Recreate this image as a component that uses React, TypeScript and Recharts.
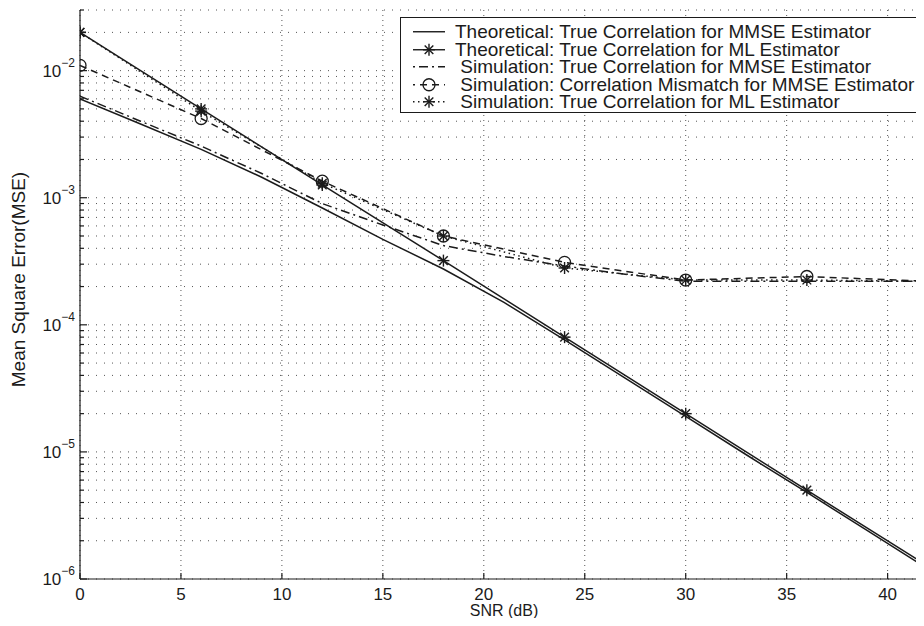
import { CartesianGrid, Legend, Line, LineChart, XAxis, YAxis } from "recharts";

const INK = "#1b1b1b";
const FONT = "'Liberation Sans', Arial, Helvetica, sans-serif";

// SNR points (dB) for the dense curves and for the marked curves
const snrFine = [0, 3, 6, 9, 12, 15, 18, 21, 24, 27, 30, 33, 36, 39, 42];
const snrCoarse = [0, 6, 12, 18, 24, 30, 36, 42];

const mmseTheory = [
  6.0e-3, 3.8e-3, 2.4e-3, 1.45e-3, 8.3e-4, 4.7e-4, 2.75e-4, 1.5e-4, 7.6e-5,
  3.8e-5, 1.9e-5, 9.5e-6, 4.8e-6, 2.4e-6, 1.2e-6,
];
const mmseSimTrue = [
  6.3e-3, 4.0e-3, 2.55e-3, 1.55e-3, 9.0e-4, 6.1e-4, 4.2e-4, 3.45e-4, 2.9e-4,
  2.5e-4, 2.2e-4, 2.2e-4, 2.2e-4, 2.2e-4, 2.2e-4,
];
const mlTheory = [2.0e-2, 5.0e-3, 1.26e-3, 3.2e-4, 8.0e-5, 2.0e-5, 5.0e-6, 1.26e-6];
const mmseSimMismatch = [1.1e-2, 4.2e-3, 1.35e-3, 5.0e-4, 3.1e-4, 2.25e-4, 2.4e-4, 2.2e-4];
const mlSim = [2.0e-2, 4.8e-3, 1.3e-3, 5.0e-4, 2.8e-4, 2.25e-4, 2.25e-4, 2.2e-4];

const xTicks = [0, 5, 10, 15, 20, 25, 30, 35, 40];
const yDecades = [1e-6, 1e-5, 1e-4, 1e-3, 1e-2];
const yMin = 1e-6;
const yMax = 3e-2;
const yTicks = yDecades
  .flatMap((d) => [1, 2, 3, 4, 5, 6, 7, 8, 9].map((m) => m * d))
  .filter((v) => v <= yMax * 1.0001);

type Marker = "none" | "star" | "circle";

const toPoints = (xs: number[], ys: number[]) =>
  xs.map((snr, i) => ({ snr, mse: ys[i] }));

const series: {
  key: string;
  name: string;
  data: { snr: number; mse: number }[];
  dash?: string;
  legendOffset?: number;
  marker: Marker;
}[] = [
  {
    key: "theoryMmse",
    name: "Theoretical: True Correlation for MMSE Estimator",
    data: toPoints(snrFine, mmseTheory),
    marker: "none",
  },
  {
    key: "theoryMl",
    name: "Theoretical: True Correlation for ML Estimator",
    data: toPoints(snrCoarse, mlTheory),
    marker: "star",
  },
  {
    key: "simMmse",
    name: " Simulation: True Correlation for MMSE Estimator",
    data: toPoints(snrFine, mmseSimTrue),
    dash: "9 4 2 4",
    legendOffset: 13,
    marker: "none",
  },
  {
    key: "simMismatch",
    name: " Simulation: Correlation Mismatch for MMSE Estimator",
    data: toPoints(snrCoarse, mmseSimMismatch),
    dash: "7 5",
    legendOffset: 5,
    marker: "circle",
  },
  {
    key: "simMl",
    name: " Simulation: True Correlation for ML Estimator",
    data: toPoints(snrCoarse, mlSim),
    dash: "1.5 3.5",
    marker: "star",
  },
];

function MarkerShape({ kind, cx, cy }: { kind: Marker; cx: number; cy: number }) {
  if (kind === "circle") {
    return <circle cx={cx} cy={cy} r={6} fill="none" stroke={INK} strokeWidth={1.3} />;
  }
  if (kind === "star") {
    const r = 6;
    const d = r * 0.72;
    return (
      <g stroke={INK} strokeWidth={1.4}>
        <line x1={cx - r} y1={cy} x2={cx + r} y2={cy} />
        <line x1={cx} y1={cy - r} x2={cx} y2={cy + r} />
        <line x1={cx - d} y1={cy - d} x2={cx + d} y2={cy + d} />
        <line x1={cx - d} y1={cy + d} x2={cx + d} y2={cy - d} />
      </g>
    );
  }
  return null;
}

const isDecade = (v: number) =>
  Math.abs(Math.log10(v) - Math.round(Math.log10(v))) < 1e-6;

// tickSize/tickMargin are 0, so x/y arrive on the axis line itself
function BottomTick({ x, y, payload }: any) {
  return (
    <g>
      <line x1={x} x2={x} y1={y} y2={y - 6} stroke={INK} strokeWidth={1.2} />
      <text x={x} y={y + 21} textAnchor="middle" fontSize={17} fontFamily={FONT} fill={INK}>
        {payload.value}
      </text>
    </g>
  );
}

function TopTick({ x, y }: any) {
  return <line x1={x} x2={x} y1={y} y2={y + 6} stroke={INK} strokeWidth={1.2} />;
}

function LeftTick({ x, y, payload }: any) {
  const v = payload.value as number;
  const major = isDecade(v);
  const exp = Math.round(Math.log10(v));
  return (
    <g>
      <line x1={x} x2={x + (major ? 7 : 4)} y1={y} y2={y} stroke={INK} strokeWidth={1.2} />
      {major && (
        <text x={x - 5} y={y + 6} textAnchor="end" fontSize={17} fontFamily={FONT} fill={INK}>
          10
          <tspan dy={-10} fontSize={12}>{`\u2212${-exp}`}</tspan>
        </text>
      )}
    </g>
  );
}

function RightTick({ x, y, payload }: any) {
  const major = isDecade(payload.value);
  return <line x1={x} x2={x - (major ? 7 : 4)} y1={y} y2={y} stroke={INK} strokeWidth={1.2} />;
}

function LegendBox() {
  return (
    <div
      style={{
        width: 521,
        height: 96,
        boxSizing: "border-box",
        border: `1px solid ${INK}`,
        background: "#fff",
        paddingTop: 5,
      }}
    >
      {series.map((s) => (
        <div key={s.key} style={{ display: "flex", alignItems: "center", height: 17.5 }}>
          <svg width={50} height={17.5} style={{ flex: "none" }}>
            <line
              x1={12}
              x2={44}
              y1={8.75}
              y2={8.75}
              stroke={INK}
              strokeWidth={1.4}
              strokeDasharray={s.dash}
              strokeDashoffset={s.legendOffset ?? 0}
            />
            <MarkerShape kind={s.marker} cx={28} cy={8.75} />
          </svg>
          <span
            style={{
              whiteSpace: "pre",
              marginLeft: 4,
              fontSize: 19,
              lineHeight: "17.5px",
              fontFamily: FONT,
              color: INK,
            }}
          >
            {s.name}
          </span>
        </div>
      ))}
    </div>
  );
}

export default function App() {
  // cancel the body margin so chart pixels line up with the page
  return (
    <div style={{ margin: -8, width: 924, height: 626, overflow: "hidden", position: "relative" }}>
      <LineChart width={924} height={626} margin={{ top: 10, right: -4, bottom: 0, left: 0 }}>
        <CartesianGrid horizontal vertical={false} stroke="#555" strokeDasharray="1 7" />
        <CartesianGrid horizontal={false} vertical stroke="#555" strokeDasharray="1 4" />
        <XAxis
          type="number"
          dataKey="snr"
          domain={[0, 42]}
          ticks={xTicks}
          interval={0}
          tickSize={0}
          tickMargin={0}
          tickLine={false}
          tick={BottomTick}
          axisLine={{ stroke: INK, strokeWidth: 1.2 }}
          height={47}
          allowDataOverflow
          label={{
            value: "SNR (dB)",
            position: "insideBottom",
            offset: 10,
            fontSize: 16,
            fontFamily: FONT,
            fill: INK,
          }}
        />
        <XAxis
          xAxisId="top"
          orientation="top"
          type="number"
          dataKey="snr"
          domain={[0, 42]}
          ticks={xTicks}
          interval={0}
          tickSize={0}
          tickMargin={0}
          tickLine={false}
          tick={TopTick}
          axisLine={{ stroke: INK, strokeWidth: 1.2 }}
          height={0}
          allowDataOverflow
        />
        <YAxis
          type="number"
          scale="log"
          domain={[yMin, yMax]}
          ticks={yTicks}
          interval={0}
          tickSize={0}
          tickMargin={0}
          tickLine={false}
          tick={LeftTick}
          axisLine={{ stroke: INK, strokeWidth: 1.2 }}
          width={80}
          allowDataOverflow
          label={({ viewBox }: any) => (
            <text
              transform={`translate(${viewBox.x + 25}, ${viewBox.y + viewBox.height / 2 - 15}) rotate(-90)`}
              textAnchor="middle"
              fontSize={19}
              fontFamily={FONT}
              fill={INK}
            >
              Mean Square Error(MSE)
            </text>
          )}
        />
        <YAxis
          yAxisId="right"
          orientation="right"
          type="number"
          scale="log"
          domain={[yMin, yMax]}
          ticks={yTicks}
          interval={0}
          tickSize={0}
          tickMargin={0}
          tickLine={false}
          tick={RightTick}
          axisLine={{ stroke: INK, strokeWidth: 1.2 }}
          width={0}
          allowDataOverflow
        />
        <Legend
          layout="vertical"
          align="center"
          verticalAlign="middle"
          content={() => <LegendBox />}
          wrapperStyle={{ top: 17, left: 400, width: 521 }}
        />
        {series.map((s) => (
          <Line
            key={s.key}
            data={s.data}
            dataKey="mse"
            name={s.name}
            type="linear"
            stroke={INK}
            strokeWidth={1.5}
            strokeDasharray={s.dash}
            dot={
              s.marker === "none"
                ? false
                : (p: any) => <MarkerShape key={`${s.key}-${p.index}`} kind={s.marker} cx={p.cx} cy={p.cy} />
            }
            activeDot={false}
            isAnimationActive={false}
          />
        ))}
      </LineChart>
    </div>
  );
}
